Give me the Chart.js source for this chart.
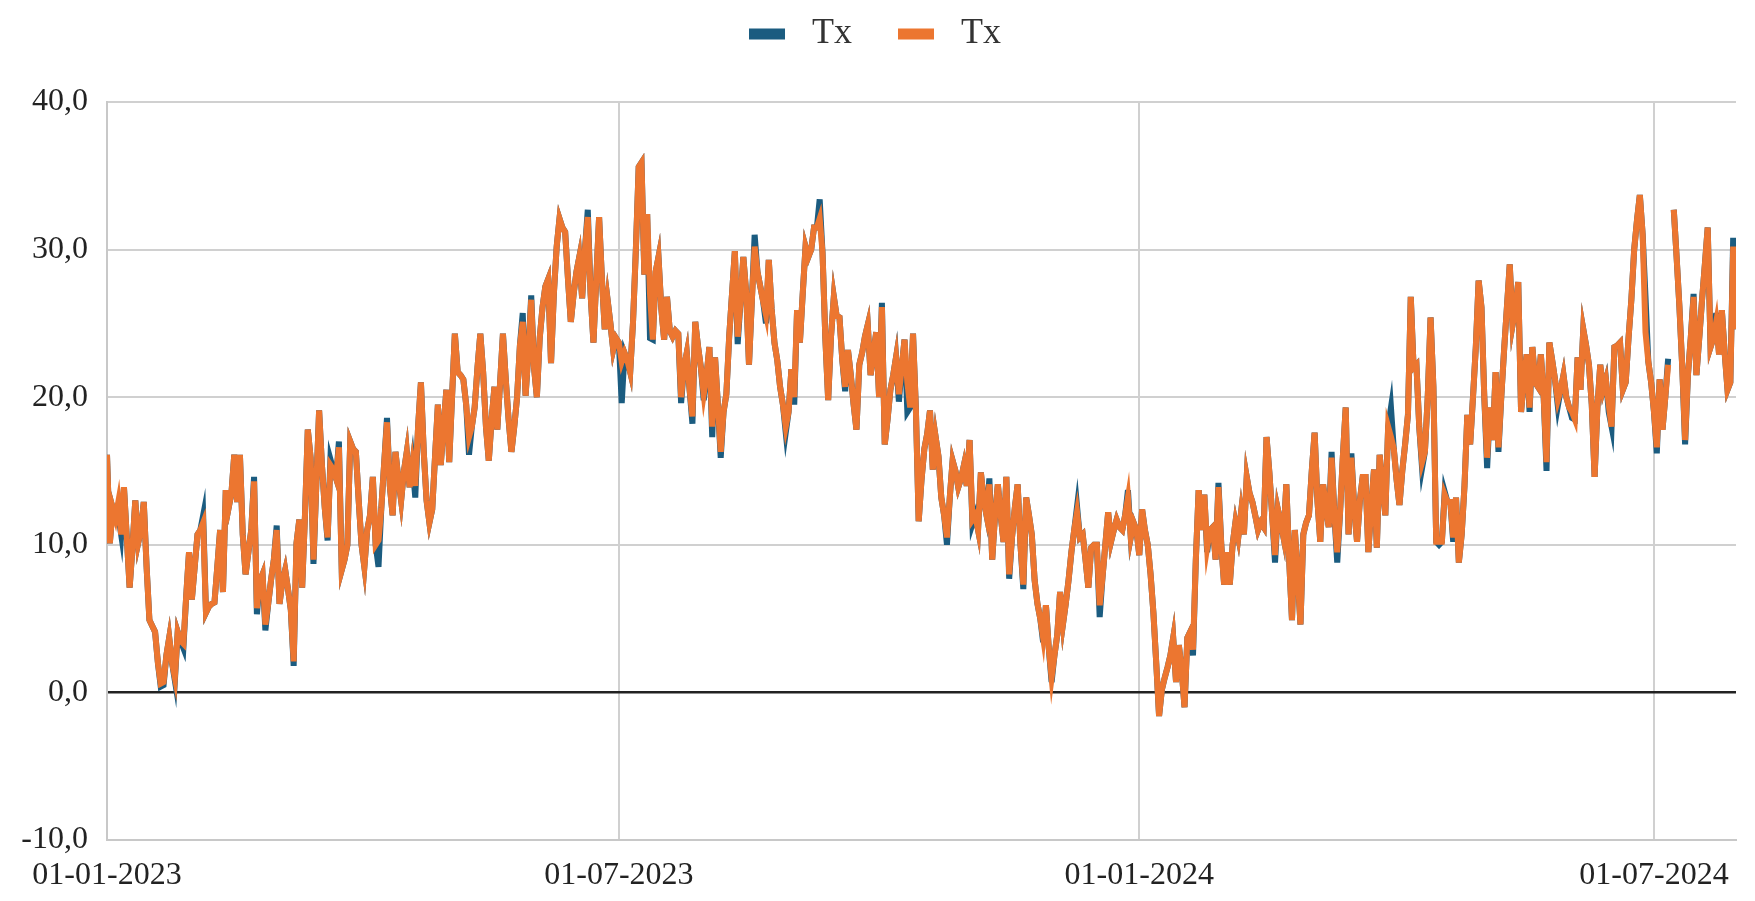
<!DOCTYPE html>
<html lang="en">
<head>
    <meta charset="UTF-8">
    <title>Tx</title>
    <script src="https://cdn.jsdelivr.net/npm/chart.js@4.4.1/dist/chart.umd.min.js"></script>
    <style>
        html, body { margin: 0; padding: 0; background: #fff; }
        .chart-box { width: 1755px; height: 901px; }
    </style>
</head>
<body>
    <div class="chart-box"><canvas id="txChart" width="1755" height="901"></canvas></div>
    <script>
        // one value per day, day 0 = 01-01-2023, last day = 30-07-2024
        const tickDays = [0, 181, 365, 547];
        const tickLabels = ['01-01-2023', '01-07-2023', '01-01-2024', '01-07-2024'];
        const seriesNames = ['Tx', 'Tx'];

        const txBlue = [
            16.1, 10.1, 12.5, 11.8, 12.0, 10.7, 13.9, 10.5, 7.1, 9.8,
            13.0, 10.1, 11.0, 12.9, 8.5, 4.9, 4.5, 4.1, 2.0, 0.4,
            0.5, 2.5, 3.7, 2.0, 0.8, 4.1, 3.5, 3.0, 6.5, 9.5,
            6.3, 8.5, 10.7, 11.0, 12.0, 5.4, 5.8, 6.0, 6.1, 8.5,
            11.0, 6.8, 13.7, 12.5, 13.5, 16.1, 12.9, 16.1, 10.7, 8.0,
            9.5, 11.0, 14.6, 5.3, 7.5, 8.0, 4.2, 6.0, 7.6, 9.0,
            11.3, 6.0, 7.5, 8.3, 7.0, 5.6, 1.8, 10.1, 11.7, 7.1,
            12.0, 17.8, 15.9, 8.7, 14.0, 19.1, 15.4, 12.5, 10.3, 15.8,
            15.1, 14.5, 17.0, 8.3, 9.0, 10.0, 17.0, 16.5, 16.3, 13.0,
            10.0, 8.5, 11.0, 12.0, 14.6, 10.0, 8.5, 12.5, 15.5, 18.6,
            14.0, 12.0, 16.3, 14.5, 13.0, 15.0, 16.3, 13.9, 15.5, 13.2,
            18.0, 21.0, 16.3, 13.0, 11.5, 12.4, 16.0, 19.5, 15.4, 18.0,
            20.5, 15.6, 20.0, 24.3, 21.7, 21.5, 21.2, 19.5, 16.1, 18.0,
            19.3, 22.0, 24.3, 21.7, 18.0, 15.7, 18.5, 20.7, 17.8, 21.0,
            24.3, 21.2, 18.5, 16.3, 18.0, 20.0, 23.5, 25.7, 20.1, 23.0,
            26.9, 22.0, 20.0, 24.0, 26.1, 27.5, 28.0, 22.3, 27.0, 30.2,
            32.1, 31.5, 31.2, 28.0, 25.1, 27.0, 28.5, 29.5, 26.7, 30.0,
            32.7, 27.0, 23.7, 28.0, 32.2, 28.0, 24.6, 26.6, 25.0, 23.2,
            24.0, 23.7, 19.6, 23.0, 22.5, 21.7, 25.1, 30.0, 35.6, 35.9,
            28.3, 32.4, 24.0, 23.9, 28.5, 29.5, 26.0, 23.9, 26.8, 24.5,
            24.1, 24.5, 24.3, 19.6, 22.0, 23.0, 20.5, 18.2, 25.1, 23.4,
            22.0, 19.8, 21.5, 23.4, 17.3, 22.7, 19.5, 15.9, 19.0, 20.2,
            24.1, 27.0, 29.9, 23.6, 26.5, 29.5, 27.1, 22.2, 26.5, 31.0,
            28.5, 27.5, 26.5, 25.0, 29.3, 26.0, 23.7, 22.5, 20.7, 19.5,
            17.6, 19.0, 21.9, 19.5, 25.9, 23.7, 27.0, 30.2, 29.5, 30.0,
            31.5, 31.5, 33.4, 29.8, 24.0, 19.8, 24.1, 26.8, 25.5, 25.4,
            22.5, 20.4, 23.2, 21.5, 19.5, 17.8, 22.2, 23.0, 24.1, 24.9,
            21.5, 23.0, 24.4, 20.0, 26.4, 16.8, 18.5, 20.5, 21.5, 22.7,
            19.7, 22.0, 23.9, 19.0, 19.3, 24.3, 19.3, 11.6, 14.4, 16.5,
            17.5, 19.1, 15.1, 17.3, 16.0, 13.2, 12.0, 10.0, 13.2, 15.7,
            15.0, 13.9, 14.5, 15.4, 14.0, 17.1, 11.4, 12.0, 11.0, 14.9,
            13.0, 12.0, 14.5, 9.0, 12.0, 14.1, 12.0, 10.2, 14.6, 7.7,
            10.5, 12.5, 14.1, 10.0, 7.0, 13.2, 12.0, 10.7, 7.6, 6.0,
            5.0, 3.4, 5.9, 3.0, 0.7, 2.5, 3.9, 6.8, 4.6, 6.0,
            7.6, 9.5, 11.0, 12.6, 10.5, 10.7, 9.0, 7.1, 9.8, 10.0,
            10.0, 5.1, 7.8, 10.0, 12.2, 10.2, 11.0, 11.7, 11.2, 11.0,
            12.0, 13.7, 10.5, 11.5, 11.0, 9.3, 12.4, 11.0, 10.0, 8.0,
            5.4, 2.0, -1.6, 0.2, 1.0, 1.7, 2.5, 3.7, 0.7, 3.2,
            1.5, -1.0, 3.7, 4.1, 2.5, 9.0, 13.7, 11.0, 13.4, 9.5,
            11.0, 11.2, 9.0, 14.2, 10.0, 7.3, 9.5, 7.3, 10.0, 11.5,
            10.5, 12.2, 10.7, 14.6, 13.5, 12.9, 12.0, 11.0, 11.5, 11.2,
            17.3, 14.9, 12.0, 8.8, 12.4, 11.5, 10.5, 14.1, 9.0, 4.9,
            11.0, 8.0, 4.6, 10.7, 11.5, 12.0, 15.0, 17.6, 13.0, 10.2,
            14.1, 12.5, 11.2, 16.3, 12.0, 8.8, 12.2, 16.0, 19.3, 10.7,
            16.2, 12.5, 10.2, 13.0, 14.6, 14.6, 9.5, 12.5, 15.1, 9.8,
            16.1, 14.0, 12.0, 18.0, 19.3, 16.5, 14.4, 12.7, 15.0, 16.8,
            18.8, 26.8, 22.0, 22.2, 18.0, 15.2, 16.3, 20.0, 25.4, 20.7,
            10.2, 10.0, 10.2, 13.6, 12.9, 12.9, 10.2, 13.2, 8.8, 10.7,
            14.0, 18.8, 16.8, 20.0, 23.4, 27.9, 26.1, 20.0, 15.2, 19.3,
            17.1, 21.7, 16.3, 20.0, 23.2, 26.1, 29.0, 24.9, 26.0, 27.8,
            19.0, 21.2, 22.9, 19.0, 23.4, 21.0, 20.7, 22.9, 20.0, 15.0,
            23.7, 22.5, 21.2, 19.4, 20.5, 21.5, 20.0, 19.3, 18.6, 18.5,
            22.7, 20.5, 24.6, 23.5, 22.2, 19.5, 14.6, 19.3, 22.2, 20.5,
            21.2, 19.0, 18.0, 23.4, 23.5, 23.7, 20.5, 21.0, 24.0, 26.6,
            30.0, 32.0, 33.7, 31.0, 26.8, 22.4, 21.0, 19.0, 16.2, 21.2,
            17.8, 20.0, 22.6, null, 32.7, 29.5, 26.1, 22.0, 16.8, 21.5,
            24.0, 27.0, 21.5, 24.0, 26.6, 29.0, 31.5, 23.4, 24.0, 25.7,
            22.9, 25.9, 23.0, 20.5, 21.0, 30.8, 24.6
        ];

        const txOrange = [
            16.1, 10.1, 12.5, 11.8, 12.9, 10.7, 13.9, 10.5, 7.1, 9.8,
            13.0, 10.1, 11.0, 12.9, 8.5, 4.9, 4.5, 4.1, 2.0, 0.6,
            0.7, 2.5, 3.7, 2.0, 1.0, 4.1, 3.5, 3.3, 6.5, 9.5,
            6.3, 8.5, 10.7, 11.0, 11.5, 5.4, 5.8, 6.0, 6.1, 8.5,
            11.0, 6.8, 13.7, 12.5, 13.5, 16.1, 12.9, 16.1, 10.7, 8.0,
            9.5, 11.0, 14.3, 5.7, 7.5, 8.0, 4.6, 6.0, 7.6, 9.0,
            11.0, 6.0, 7.5, 8.3, 7.0, 5.6, 2.1, 10.1, 11.7, 7.1,
            12.0, 17.8, 15.9, 9.0, 14.0, 19.1, 15.4, 12.5, 10.5, 15.4,
            15.1, 14.5, 16.6, 8.3, 9.0, 10.0, 17.0, 16.5, 16.3, 13.0,
            10.0, 8.5, 11.0, 12.0, 14.6, 10.0, 10.3, 12.5, 15.5, 18.3,
            14.0, 12.0, 16.3, 14.5, 13.0, 15.0, 16.3, 13.9, 15.5, 14.0,
            18.0, 21.0, 16.3, 13.0, 11.5, 12.4, 16.0, 19.5, 15.4, 18.0,
            20.5, 15.6, 20.0, 24.3, 21.7, 21.5, 21.2, 19.5, 17.3, 18.0,
            19.3, 22.0, 24.3, 21.7, 18.0, 15.7, 18.5, 20.7, 17.8, 21.0,
            24.3, 21.2, 18.5, 16.3, 18.0, 20.0, 23.5, 25.1, 20.1, 23.0,
            26.6, 22.0, 20.0, 24.0, 26.1, 27.5, 28.0, 22.3, 27.0, 30.2,
            32.1, 31.5, 31.2, 28.0, 25.1, 27.0, 28.5, 29.5, 26.7, 30.0,
            32.2, 27.0, 23.7, 28.0, 32.2, 28.0, 24.6, 26.6, 25.0, 23.2,
            24.0, 23.7, 22.4, 23.0, 22.5, 21.7, 25.1, 30.0, 35.6, 35.9,
            28.3, 32.4, 27.0, 23.9, 28.5, 29.5, 26.0, 23.9, 26.8, 24.5,
            24.1, 24.5, 24.3, 20.0, 22.0, 23.0, 20.5, 18.7, 25.1, 23.4,
            22.0, 20.2, 21.5, 23.4, 18.0, 22.7, 19.5, 16.3, 19.0, 20.2,
            24.1, 27.0, 29.9, 24.1, 26.5, 29.5, 27.1, 22.2, 26.5, 30.2,
            28.5, 27.5, 26.5, 25.6, 29.3, 26.0, 23.7, 22.5, 20.7, 19.5,
            18.0, 19.0, 21.9, 20.0, 25.9, 23.7, 27.0, 30.2, 29.5, 30.0,
            31.5, 31.5, 32.1, 29.8, 24.0, 19.8, 24.1, 26.8, 25.5, 25.4,
            22.5, 20.7, 23.2, 21.5, 19.5, 17.8, 22.2, 23.0, 24.1, 24.9,
            21.5, 23.0, 24.4, 20.0, 26.1, 16.8, 18.5, 20.5, 21.5, 22.7,
            20.2, 22.0, 23.9, 21.0, 19.3, 24.3, 19.3, 11.6, 14.4, 16.5,
            17.5, 19.1, 15.1, 17.3, 16.0, 13.2, 12.0, 10.5, 13.2, 15.7,
            15.0, 13.9, 14.5, 15.4, 14.0, 17.1, 11.7, 12.0, 11.0, 14.9,
            13.0, 12.0, 14.1, 9.0, 12.0, 14.1, 12.0, 10.2, 14.6, 8.0,
            10.5, 12.5, 14.1, 10.0, 7.3, 13.2, 12.0, 10.7, 7.6, 6.0,
            5.0, 3.7, 5.9, 3.0, 1.0, 2.5, 3.9, 6.8, 4.6, 6.0,
            7.6, 9.5, 11.0, 12.2, 10.5, 10.7, 9.0, 7.1, 9.8, 10.0,
            10.0, 5.9, 7.8, 10.0, 12.2, 10.2, 11.0, 11.7, 11.2, 11.0,
            12.0, 13.2, 10.5, 11.5, 11.0, 9.3, 12.4, 11.0, 10.0, 8.0,
            5.4, 2.0, -1.6, 0.2, 1.0, 1.7, 2.5, 3.7, 0.7, 3.2,
            1.5, -1.0, 3.7, 4.1, 2.9, 9.0, 13.7, 11.0, 13.4, 9.8,
            11.0, 11.2, 9.0, 13.9, 10.0, 7.3, 9.5, 7.3, 10.0, 11.5,
            10.5, 12.2, 10.7, 14.6, 13.5, 12.9, 12.0, 11.0, 11.5, 11.2,
            17.3, 14.9, 12.0, 9.3, 12.4, 11.5, 10.5, 14.1, 9.0, 4.9,
            11.0, 8.0, 4.6, 10.7, 11.5, 12.0, 15.0, 17.6, 13.0, 10.2,
            14.1, 12.5, 11.2, 15.9, 12.0, 9.5, 12.2, 16.0, 19.3, 10.7,
            15.9, 12.5, 10.2, 13.0, 14.6, 14.6, 9.5, 12.5, 15.1, 9.8,
            16.1, 14.0, 12.0, 18.0, 17.3, 16.5, 14.4, 12.7, 15.0, 16.8,
            18.8, 26.8, 22.0, 22.2, 18.0, 15.6, 16.3, 20.0, 25.4, 20.7,
            10.2, 10.2, 10.2, 13.4, 12.9, 12.9, 10.5, 13.2, 8.8, 10.7,
            14.0, 18.8, 16.8, 20.0, 23.4, 27.9, 26.1, 20.0, 15.9, 19.3,
            17.1, 21.7, 16.6, 20.0, 23.2, 26.1, 29.0, 24.9, 26.0, 27.8,
            19.0, 21.2, 22.9, 19.3, 23.4, 21.0, 20.7, 22.9, 20.0, 15.6,
            23.7, 22.5, 21.2, 19.8, 20.5, 21.5, 20.0, 19.3, 19.0, 18.5,
            22.7, 20.5, 24.6, 23.5, 22.2, 19.5, 14.6, 19.3, 22.2, 20.5,
            21.2, 19.5, 18.0, 23.4, 23.5, 23.7, 20.5, 21.0, 24.0, 26.6,
            30.0, 32.0, 33.7, 31.0, 24.4, 22.4, 21.0, 19.0, 16.6, 21.2,
            17.8, 20.0, 22.2, null, 32.7, 29.5, 26.1, 22.0, 17.1, 21.5,
            24.0, 26.8, 21.5, 24.0, 26.6, 29.0, 31.5, 23.4, 24.0, 25.1,
            22.9, 25.9, 23.0, 20.5, 21.0, 30.2, 24.6
        ];

        const blue = '#1b5c80';
        const orange = '#ec7630';
        const serif = 'Liberation Serif, Times New Roman, serif';

        const toPoints = arr => arr.map((v, i) => ({ x: i, y: v }));

        // push the plot area down under the legend
        const legendGap = {
            id: 'legendGap',
            beforeInit(chart) {
                const fit = chart.legend.fit;
                chart.legend.fit = function () {
                    fit.call(this);
                    this.height += 40;
                };
            }
        };

        new Chart(document.getElementById('txChart'), {
            type: 'line',
            data: {
                datasets: [
                    {
                        label: seriesNames[1],
                        data: toPoints(txOrange),
                        borderColor: orange,
                        backgroundColor: orange,
                        borderWidth: 6,
                        pointRadius: 0,
                        tension: 0
                    },
                    {
                        label: seriesNames[0],
                        data: toPoints(txBlue),
                        borderColor: blue,
                        backgroundColor: blue,
                        borderWidth: 6,
                        pointRadius: 0,
                        tension: 0
                    }
                ]
            },
            options: {
                responsive: false,
                animation: false,
                layout: { padding: { top: 6, right: 19, left: 14, bottom: 0 } },
                plugins: {
                    tooltip: { enabled: false },
                    legend: {
                        reverse: true,
                        labels: {
                            boxWidth: 36,
                            boxHeight: 11,
                            padding: 10,
                            color: '#333',
                            font: { family: serif, size: 36 },
                            generateLabels: chart => Chart.defaults.plugins.legend.labels.generateLabels(chart).map(item => {
                                item.lineWidth = 0;
                                item.text = ' ' + item.text + (item.datasetIndex === 1 ? '    ' : '');
                                return item;
                            })
                        }
                    }
                },
                scales: {
                    x: {
                        type: 'linear',
                        min: 0,
                        max: txOrange.length - 1,
                        afterBuildTicks: scale => {
                            scale.ticks = tickDays.map(d => ({ value: d }));
                        },
                        afterFit: scale => { scale.height = 61; },
                        ticks: {
                            autoSkip: false,
                            maxRotation: 0,
                            padding: 16,
                            color: '#222',
                            font: { family: serif, size: 32 },
                            callback: (value, index) => tickLabels[index]
                        },
                        grid: { color: '#d0d0d0', lineWidth: 2, drawTicks: false },
                        border: { color: '#c8c8c8', width: 2 }
                    },
                    y: {
                        min: -10,
                        max: 40,
                        afterFit: scale => { scale.width = 93; },
                        ticks: {
                            stepSize: 10,
                            padding: 19,
                            color: '#222',
                            font: { family: serif, size: 32 },
                            callback: v => v.toFixed(1).replace('.', ',')
                        },
                        grid: {
                            color: ctx => ctx.tick.value === 0 ? '#222' : '#d0d0d0',
                            lineWidth: ctx => ctx.tick.value === 0 ? 2.5 : 2,
                            drawTicks: false
                        },
                        border: { color: '#c8c8c8', width: 2 }
                    }
                }
            },
            plugins: [legendGap]
        });
    </script>
</body>
</html>
